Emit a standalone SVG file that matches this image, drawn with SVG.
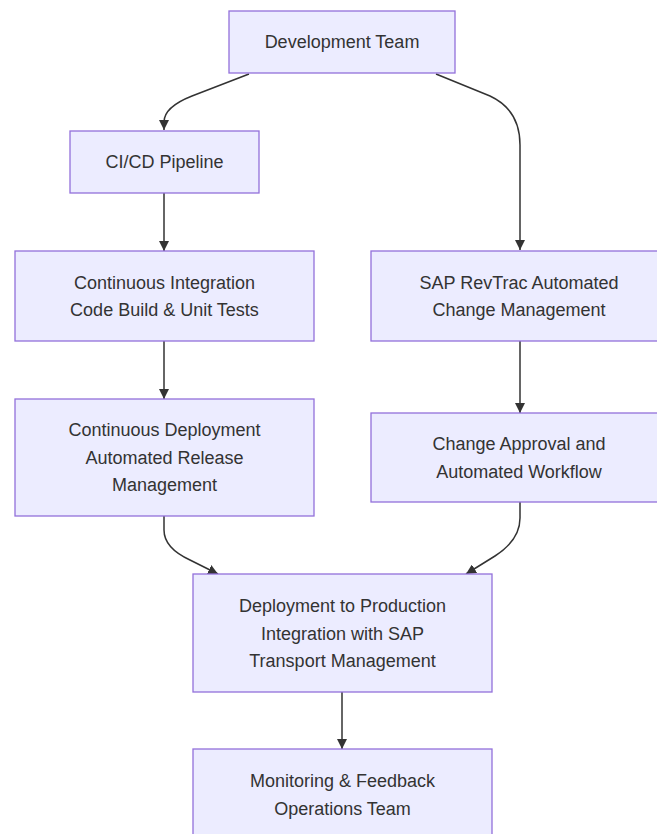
<svg xmlns="http://www.w3.org/2000/svg" width="657" height="834" viewBox="0 0 657 834">
<defs>
<style>
.node rect{fill:#ECECFF;stroke:#9370DB;stroke-width:1.3}
.node text{font-family:"Liberation Sans",Arial,sans-serif;font-size:18px;fill:#333;text-anchor:middle;dominant-baseline:central}
.edges path{fill:none;stroke:#333;stroke-width:1.5}
</style>
<marker id="arr" viewBox="0 0 10 10" refX="10" refY="5" markerWidth="10" markerHeight="10" markerUnits="userSpaceOnUse" orient="auto">
<path d="M0,0 L10,5 L0,10 z" fill="#333"/>
</marker>
</defs>
<rect width="657" height="834" fill="#fff"/>
<g class="edges">
<path d="M249,74 L192,96 Q164,107 164,122 L164,130" marker-end="url(#arr)"/>
<path d="M436,74 L490,96 Q520,110 520,145 L520,250" marker-end="url(#arr)"/>
<path d="M164,193 L164,251" marker-end="url(#arr)"/>
<path d="M164,341 L164,399" marker-end="url(#arr)"/>
<path d="M520,341 L520,413" marker-end="url(#arr)"/>
<path d="M164,516 L164,530 Q164,548 190,560 L218,574" marker-end="url(#arr)"/>
<path d="M520,502 L520,518 Q520,540 495,556 L466,574" marker-end="url(#arr)"/>
<path d="M342,692 L342,749" marker-end="url(#arr)"/>
</g>
<g id="dev" class="node"><rect x="229" y="11" width="226" height="62"/><text x="342" y="42">Development Team</text></g>
<g id="cicd" class="node"><rect x="70" y="131" width="189" height="62"/><text x="164.5" y="162">CI/CD Pipeline</text></g>
<g id="ci" class="node"><rect x="15" y="251" width="299" height="90"/><text x="164.5" y="282.5">Continuous Integration</text><text x="164.5" y="310">Code Build &amp; Unit Tests</text></g>
<g id="sap" class="node"><rect x="371" y="251" width="296" height="90"/><text x="519" y="282.5">SAP RevTrac Automated</text><text x="519" y="310">Change Management</text></g>
<g id="cd" class="node"><rect x="15" y="399" width="299" height="117"/><text x="164.5" y="430">Continuous Deployment</text><text x="164.5" y="457.5">Automated Release</text><text x="164.5" y="485">Management</text></g>
<g id="approval" class="node"><rect x="371" y="413" width="296" height="89"/><text x="519" y="444">Change Approval and</text><text x="519" y="471.5">Automated Workflow</text></g>
<g id="deploy" class="node"><rect x="193" y="574" width="299" height="118"/><text x="342.5" y="606">Deployment to Production</text><text x="342.5" y="633.5">Integration with SAP</text><text x="342.5" y="661">Transport Management</text></g>
<g id="monitor" class="node"><rect x="193" y="749" width="299" height="95"/><text x="342.5" y="781">Monitoring &amp; Feedback</text><text x="342.5" y="808.5">Operations Team</text></g>
</svg>
